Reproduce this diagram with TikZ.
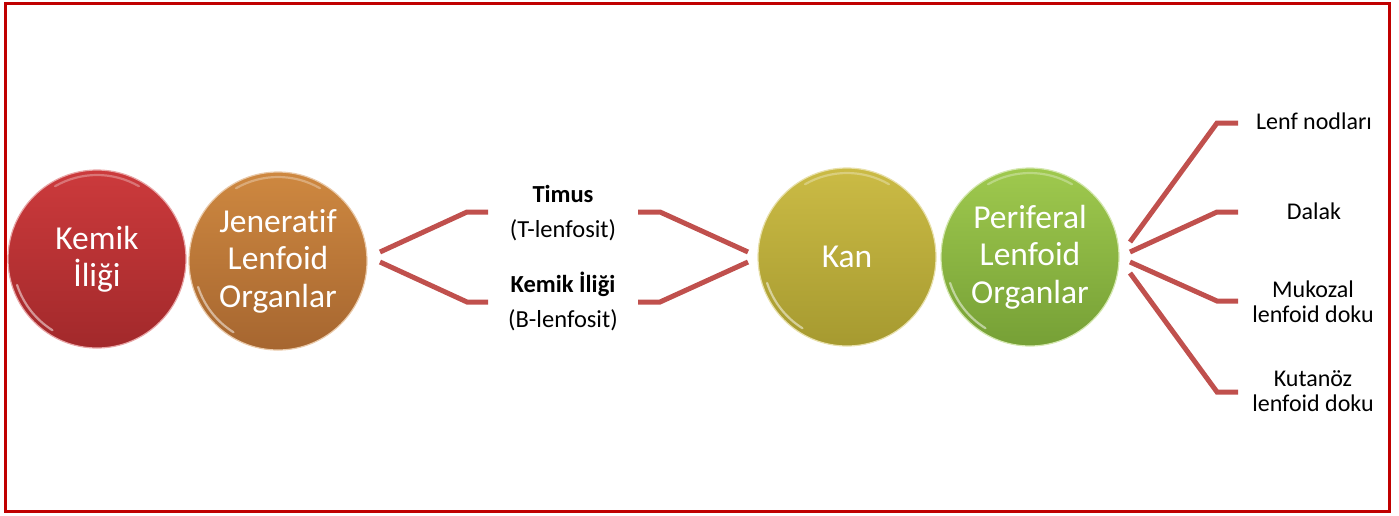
\documentclass[tikz,border=0pt]{standalone}
\usepackage{fontspec}
\setmainfont{Carlito}[Ligatures=NoCommon]
\begin{document}
\begin{tikzpicture}[x=1pt,y=-1pt,
  ball/.style={circle, minimum size=178pt, inner sep=0pt, draw=#1!45!white, line width=1.2pt,
    text=white, align=center, font=\fontsize{33.5}{37.5}\selectfont},
  conn/.style={draw=lineRed, line width=5pt},
  lbl/.style={align=center, font=\fontsize{24}{25}\selectfont, text=black, inner sep=0pt},
  mlbl/.style={lbl, font=\fontsize{24.5}{25}\selectfont},
  shine/.style={draw=white, line width=2.2pt, opacity=0.5, line cap=round},
]
\definecolor{frameRed}{HTML}{C00000}
\definecolor{lineRed}{HTML}{C0504D}
\definecolor{redT}{HTML}{CC3A3C}\definecolor{redB}{HTML}{A2292B}
\definecolor{orT}{HTML}{CE8840}\definecolor{orB}{HTML}{A66630}
\definecolor{olT}{HTML}{CBBB45}\definecolor{olB}{HTML}{A69A30}
\definecolor{grT}{HTML}{9FC94E}\definecolor{grB}{HTML}{76A036}
\useasboundingbox (0,0) rectangle (1399,515);
\draw[frameRed, line width=3pt] (5.5,3.5) rectangle (1389.5,511.5);
% balls
\node[ball=redT, top color=redT, bottom color=redB] (kemik) at (97,259) {Kemik\\İliği};
\node[ball=orT, top color=orT, bottom color=orB] (gen) at (278,261) {Jeneratif\\Lenfoid\\Organlar};
\node[ball=olT, top color=olT, bottom color=olB] (kan) at (847,257) {Kan};
\node[ball=grT, top color=grT, bottom color=grB] (per) at (1030,257) {Periferal\\Lenfoid\\Organlar};
% gloss highlights
\foreach \b in {kemik,gen,kan,per}{
  \begin{scope}[shift={(\b.center)}, x=1pt, y=1pt]
    \draw[shine] (198:84) arc[start angle=198, end angle=238, radius=84];
    \draw[shine, opacity=0.3] (60:84) arc[start angle=60, end angle=120, radius=84];
  \end{scope}
}
% middle labels
\node[mlbl, anchor=base] (timus) at (563,202) {\textbf{Timus}};
\node[mlbl, anchor=base] (tlen) at (563,237) {(T-lenfosit)};
\node[mlbl, anchor=base] (bone) at (563,292) {\textbf{Kemik İliği}};
\node[mlbl, anchor=base] (blen) at (563,327) {(B-lenfosit)};
% right labels
\node[lbl, anchor=base] (lenf) at (1314,129) {Lenf nodları};
\node[lbl, anchor=base] (dalak) at (1314,219) {Dalak};
\node[lbl] (muk) at (1313,301.5) {Mukozal\\lenfoid doku};
\node[lbl] (kut) at (1313,391.5) {Kutanöz\\lenfoid doku};
% connector coordinates
\coordinate (g1) at (380,252); \coordinate (g2) at (380,262);
\coordinate (k1) at (748,252); \coordinate (k2) at (748,262);
\coordinate (p1) at (1130,242); \coordinate (p2) at (1130,252);
\coordinate (p3) at (1130,262); \coordinate (p4) at (1130,273);
% brackets
\draw[conn] (g1) -- (467,212) -- (488,212);
\draw[conn] (g2) -- (467,302) -- (488,302);
\draw[conn] (638,212) -- (660,212) -- (k1);
\draw[conn] (638,302) -- (660,302) -- (k2);
% right fan
\draw[conn] (p1) -- (1217,123) -- (1238,123);
\draw[conn] (p2) -- (1217,212) -- (1238,212);
\draw[conn] (p3) -- (1217,301) -- (1238,301);
\draw[conn] (p4) -- (1217,392) -- (1238,392);
\end{tikzpicture}
\end{document}
